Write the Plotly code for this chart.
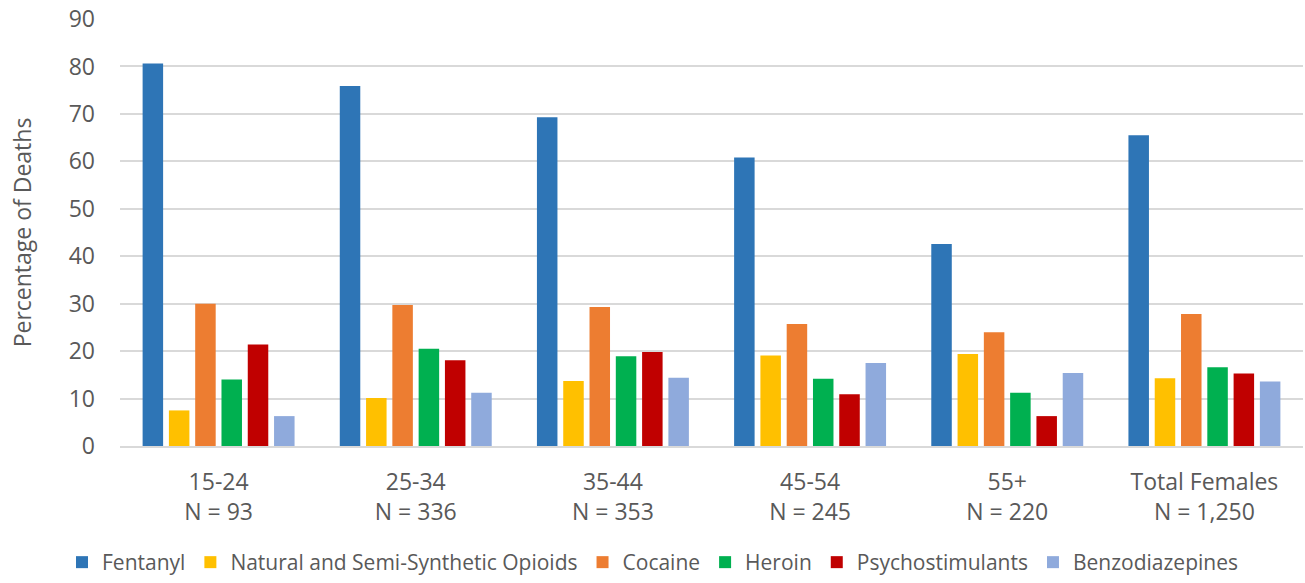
import plotly.graph_objects as go

# Age groups (with number of deaths) along the category axis
groups = ["15-24", "25-34", "35-44", "45-54", "55+", "Total Females"]
group_n = ["N = 93", "N = 336", "N = 353", "N = 245", "N = 220", "N = 1,250"]

# Percentage of deaths involving each drug, per age group
fentanyl = [80.6, 75.9, 69.3, 60.8, 42.6, 65.5]
natural_semi_synthetic = [7.5, 10.1, 13.7, 19.1, 19.4, 14.3]
cocaine = [30.0, 29.7, 29.3, 25.7, 24.0, 27.8]
heroin = [14.0, 20.5, 18.9, 14.2, 11.2, 16.6]
psychostimulants = [21.4, 18.1, 19.8, 10.9, 6.3, 15.3]
benzodiazepines = [6.3, 11.2, 14.4, 17.5, 15.4, 13.6]

y_ticks = [0, 10, 20, 30, 40, 50, 60, 70, 80, 90]

series = [
    ("Fentanyl", fentanyl, "#2E75B6"),
    ("Natural and Semi-Synthetic Opioids", natural_semi_synthetic, "#FFC000"),
    ("Cocaine", cocaine, "#ED7D31"),
    ("Heroin", heroin, "#00B050"),
    ("Psychostimulants", psychostimulants, "#C00000"),
    ("Benzodiazepines", benzodiazepines, "#8FAADC"),
]

FONT = "Open Sans"
TEXT = "#595959"
SIZE = 23

fig = go.Figure()
for name, values, color in series:
    fig.add_trace(go.Bar(
        name=name,
        x=groups,
        y=values,
        marker=dict(color=color, line=dict(width=0)),
    ))

fig.update_layout(
    width=1305,
    height=583,
    barmode="group",
    bargap=0.2,
    bargroupgap=0.22,
    plot_bgcolor="white",
    paper_bgcolor="white",
    margin=dict(l=120, r=2, t=19, b=137),
    font=dict(family=FONT, size=SIZE, color=TEXT),
    legend=dict(
        orientation="h",
        x=0.5, xanchor="center", xref="container",
        y=-0.016, yanchor="bottom", yref="container",
        font=dict(family=FONT, size=21, color=TEXT),
        itemwidth=30,
        tracegroupgap=0,
    ),
    showlegend=True,
)

fig.update_xaxes(
    tickvals=groups,
    ticktext=[f"{g}<br>{n}" for g, n in zip(groups, group_n)],
    tickfont=dict(family=FONT, size=SIZE, color=TEXT),
    showgrid=False,
    showline=True,
    linecolor="#D9D9D9",
    linewidth=1.5,
    ticks="",
    ticklabelstandoff=15,
)

fig.update_yaxes(
    range=[0, 90],
    tickvals=y_ticks,
    tickfont=dict(family=FONT, size=SIZE, color=TEXT),
    showgrid=True,
    gridcolor="#D9D9D9",
    gridwidth=1.5,
    zeroline=False,
    showline=False,
    ticks="",
    ticklabelstandoff=24,
    title=dict(text="Percentage of Deaths", font=dict(family=FONT, size=SIZE, color=TEXT), standoff=30),
)

fig.write_html("out.html")
